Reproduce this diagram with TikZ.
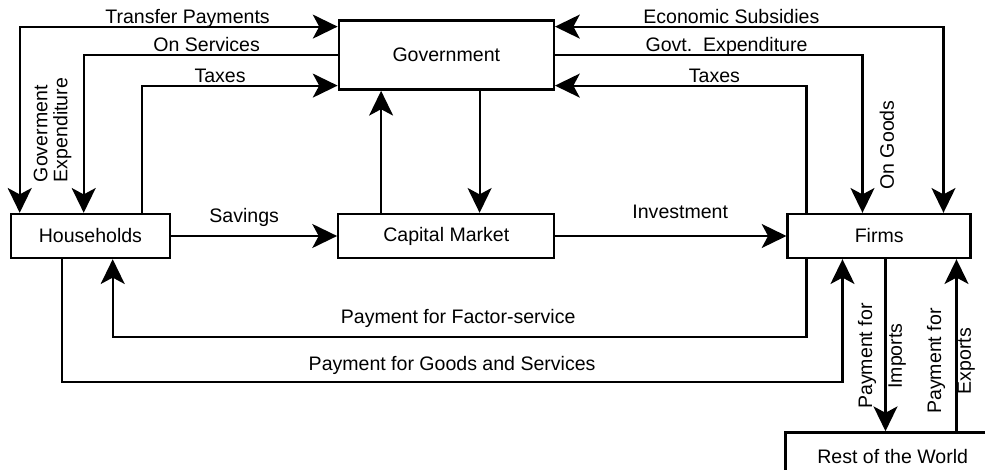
\documentclass[tikz,border=0pt]{standalone}
\usepackage{fontspec}
\setmainfont{Liberation Sans}
\usetikzlibrary{arrows.meta, positioning}

\begin{document}
\begin{tikzpicture}[
    >={Stealth[length=0.62cm, width=0.6cm, inset=0.16cm]},
    font=\fontsize{13.9}{14.2}\selectfont,
    box/.style={draw, line width=1.7pt, minimum height=1.1cm},
    flow/.style={line width=1.45pt},
    lbl/.style={inner sep=0pt, text depth=0.15em},
    side/.style={rotate=90, inner sep=0pt},
]
    \clip (0,0) rectangle (24.625,-11.75);

    \node[box, minimum width=3.975cm] (hh) at (2.26,-5.9) {Households};
    \node[box, minimum width=5.4cm, right=4.15cm of hh] (cm) {Capital Market};
    \node[box, minimum width=4.575cm, right=5.775cm of cm] (fi) {Firms};
    \node[box, minimum width=5.375cm, minimum height=1.725cm, above=3.05cm of cm] (gov) {Government};
    \node[box, minimum width=5.35cm, minimum height=1.2cm, anchor=north west] (row)
        at ([xshift=-0.05cm, yshift=-4.3cm]fi.south west) {Rest of the World};

    \draw[flow, <->] ([xshift=0.25cm]hh.north west) |- ([yshift=-0.18cm]gov.north west)
        node[lbl, pos=0.764, above] {Transfer Payments};
    \draw[flow, ->] (gov.west) -| ([xshift=1.85cm]hh.north west)
        node[lbl, pos=0.258, above] {On Services};
    \draw[flow, ->] ([xshift=3.3cm]hh.north west) |- ([yshift=0.13cm]gov.south west)
        node[lbl, pos=0.7, above] {Taxes};

    \draw[flow, <->] ([yshift=-0.18cm]gov.north east) -| ([xshift=3.925cm]fi.north west)
        node[lbl, pos=0.227, above] {Economic Subsidies};
    \draw[flow, ->] (gov.east) -| ([xshift=1.9cm]fi.north west)
        node[lbl, pos=0.279, above] {Govt.\ \ Expenditure};
    \draw[flow, ->] ([xshift=0.5cm]fi.north west) |- ([yshift=0.13cm]gov.south east)
        node[lbl, pos=0.683, above] {Taxes};

    \draw[flow, ->] ([xshift=1.1cm]cm.north west) -- ([xshift=1.1cm]cm.north west |- gov.south);
    \draw[flow, ->] ([xshift=3.55cm]gov.south west) -- ([xshift=3.55cm]gov.south west |- cm.north);

    \draw[flow, ->] (hh) -- (cm) node[lbl, pos=0.44, above=0.27cm] {Savings};
    \draw[flow, ->] (cm) -- (fi) node[lbl, pos=0.54, above=0.35cm] {Investment};

    \draw[flow, ->] ([xshift=0.5cm]fi.south west) -- ++(0,-1.95) -| ([xshift=2.575cm]hh.south west)
        node[lbl, pos=0.251, above=0.27cm] {Payment for Factor-service};
    \draw[flow, ->] ([xshift=1.3cm]hh.south west) -- ++(0,-3.075) -| ([xshift=1.4cm]fi.south west)
        node[lbl, pos=0.25, above=0.22cm] {Payment for Goods and Services};

    \draw[flow, ->] ([xshift=2.475cm]fi.south west) -- ([xshift=2.475cm]fi.south west |- row.north);
    \draw[flow, <-] ([xshift=4.25cm]fi.south west) -- ([xshift=4.25cm]fi.south west |- row.north);

    \node[side, align=left] (gexp) at (1.3125,-3.25) {Goverment\\Expenditure};
    \node[side] (ongoods) at (22.175,-3.625) {On Goods};
    \node[side, align=center] (pimp) at (22.05,-8.9) {Payment for\\[7pt]Imports};
    \node[side, align=center] (pexp) at (23.775,-9.025) {Payment for\\[7pt]Exports};
\end{tikzpicture}
\end{document}
